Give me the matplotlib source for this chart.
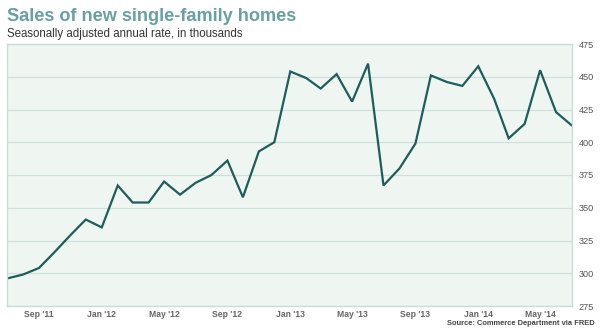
import pandas as pd
import matplotlib
matplotlib.use("Agg")
import matplotlib.pyplot as plt

# monthly sales, Jul 2011 - Jul 2014 (thousands, SAAR)
months = pd.date_range("2011-07-01", "2014-07-01", freq="MS")
sales = [296, 299, 304, 316, 329, 341, 335, 367, 354, 354, 370, 360,
         369, 375, 386, 358, 393, 400, 454, 449, 441, 452, 431, 460,
         367, 380, 399, 451, 446, 443, 458, 433, 403, 414, 455, 423, 413]

tick_idx = [2, 6, 10, 14, 18, 22, 26, 30, 34]
tick_labels = ["Sep '11", "Jan '12", "May '12", "Sep '12", "Jan '13",
               "May '13", "Sep '13", "Jan '14", "May '14"]
y_ticks = [275, 300, 325, 350, 375, 400, 425, 450, 475]

plt.rcParams['font.family'] = ['Liberation Sans', 'DejaVu Sans']

fig = plt.figure(figsize=(6, 3.33), dpi=100)
ax = fig.add_axes([7 / 600, 1 - 306 / 333, 564.5 / 600, 262 / 333])
ax.set_facecolor('#eff6f2')

ax.plot(months, sales, color='#1f5c5c', lw=1.6, solid_joinstyle='miter')

ax.set_xlim(months[0], months[-1])
ax.set_ylim(275, 475)
ax.set_yticks(y_ticks)
ax.yaxis.tick_right()
ax.tick_params(axis='y', length=0, pad=5, labelsize=6.6, labelcolor='#555555')
ax.set_xticks([months[i] for i in tick_idx])
ax.set_xticklabels(tick_labels, fontweight='bold')
ax.tick_params(axis='x', length=0, pad=3, labelsize=6.2, labelcolor='#666666')
ax.grid(axis='y', color='#cfe0dc', lw=0.9)
ax.set_axisbelow(True)
for s in ax.spines.values():
    s.set_color('#c9dcd8')
    s.set_linewidth(1)

fig.text(7 / 600, 1 - 21 / 333, "Sales of new single-family homes",
         fontsize=13.1, fontweight='bold', color='#6a9fa2')
fig.text(7 / 600, 1 - 37 / 333, "Seasonally adjusted annual rate, in thousands",
         fontsize=8.3, color='#333333')
fig.text(595 / 600, 1 - 325 / 333, "Source: Commerce Department via FRED",
         fontsize=5.4, fontweight='bold', color='#444444', ha='right')

fig.savefig("out.png", dpi=100)
